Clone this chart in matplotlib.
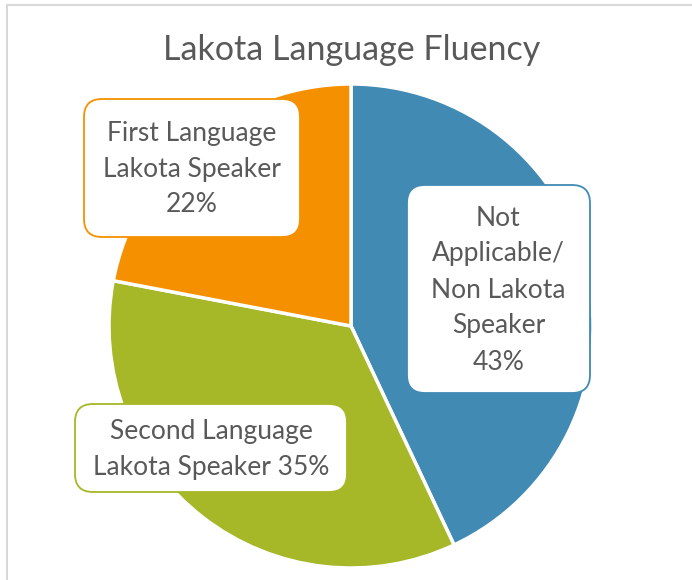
import matplotlib
matplotlib.use("Agg")
import matplotlib.pyplot as plt
from matplotlib.patches import FancyBboxPatch
from matplotlib.lines import Line2D

title = "Lakota Language Fluency"
categories = ["Not\nApplicable/\nNon Lakota\nSpeaker", "Second Language\nLakota Speaker", "First Language\nLakota Speaker"]
values = [43, 35, 22]
colors = ["#418AB3", "#A6B727", "#F59100"]
# separator between category name and percentage in each label
separators = ["\n", " ", "\n"]

plt.rcParams['font.family'] = ['Lato', 'DejaVu Sans']
W, H = 692, 580
fig = plt.figure(figsize=(W / 100, H / 100), dpi=100)
ax = fig.add_axes([0, 0, 1, 1])

cx, cy, r = 351, H - 326, 242
ax.pie(values, colors=colors, startangle=90, counterclock=False,
       center=(cx, cy), radius=r,
       wedgeprops=dict(edgecolor="white", linewidth=2.5))

ax.set_xlim(0, W)
ax.set_ylim(0, H)
ax.set_aspect("equal")
ax.axis("off")

# chart frame (top and left visible)
ax.add_line(Line2D([6.5, 6.5], [0, H - 4.5], color="#D9D9D9", lw=1.5))
ax.add_line(Line2D([6.5, W], [H - 4.5, H - 4.5], color="#D9D9D9", lw=1.5))

ax.text(352, H - 50, title, ha="center", va="center", fontsize=24.5, color="#595959")

boxes = [
    (407, 185, 590, 393),
    (75, 404, 347, 492),
    (84, 99, 300, 237),
]
for (x0, y0, x1, y1), cat, val, sep, col in zip(boxes, categories, values, separators, colors):
    txt = f"{cat}{sep}{val}%"
    rad = 18
    patch = FancyBboxPatch((x0 + rad, H - y1 + rad), (x1 - x0) - 2 * rad, (y1 - y0) - 2 * rad,
                           boxstyle=f"round,pad={rad}", facecolor="white",
                           edgecolor=col, linewidth=1.3, zorder=3)
    ax.add_patch(patch)
    ax.text((x0 + x1) / 2, H - (y0 + y1) / 2 - 1, txt, ha="center", va="center",
            fontsize=19, color="#595959", linespacing=1.55, zorder=4)

fig.savefig("out.png", dpi=100)
